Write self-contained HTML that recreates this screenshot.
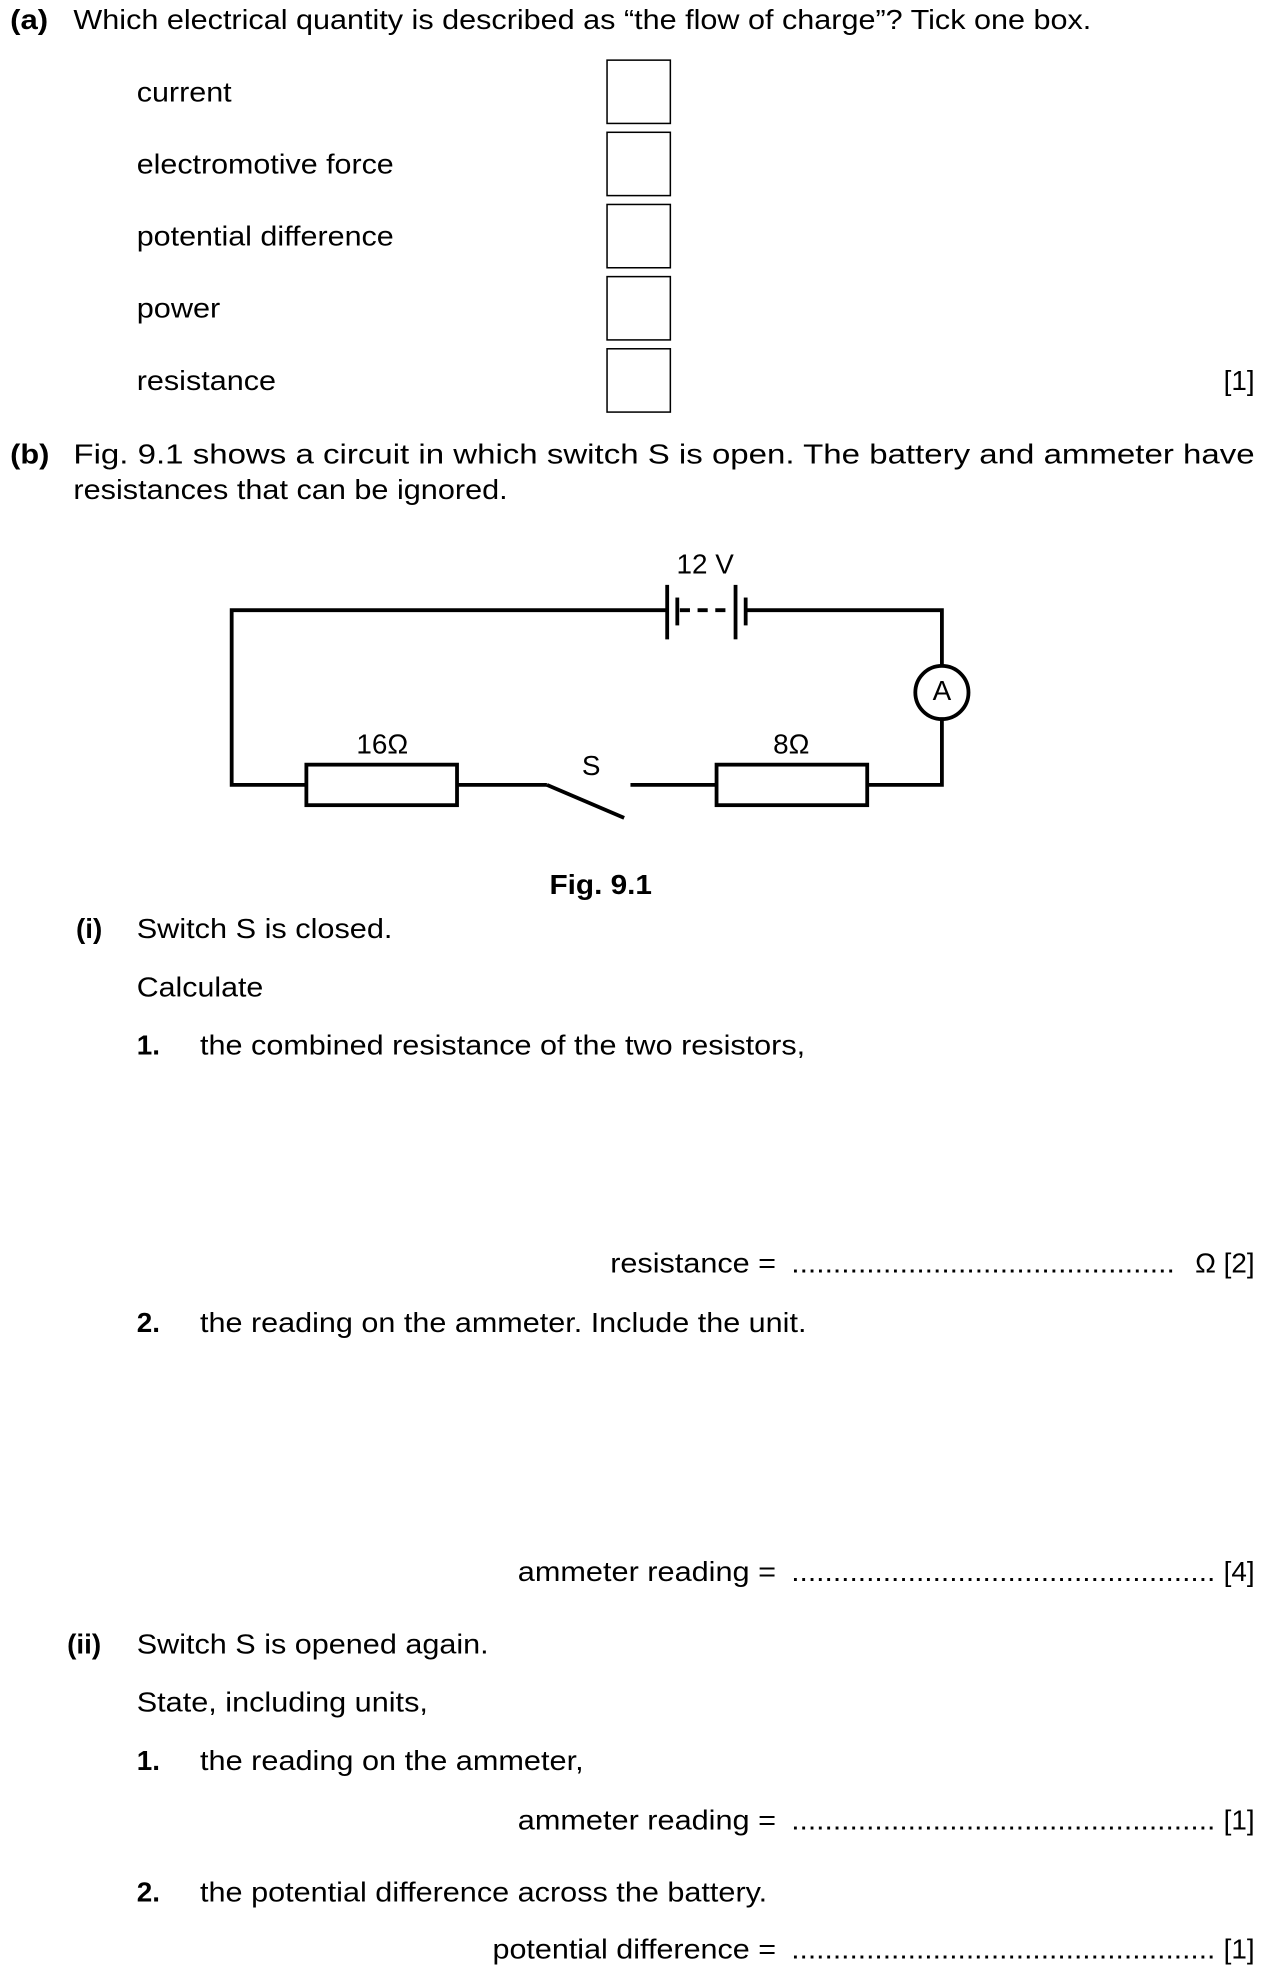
<!DOCTYPE html>
<html><head><meta charset="utf-8"><style>
html,body{margin:0;padding:0;background:#fff;}
svg{display:block;}
text{font-family:"Liberation Sans",Arial,sans-serif;font-size:22px;fill:#000;}
</style></head><body>
<svg width="1266" height="1980" viewBox="0 0 1000 1564" preserveAspectRatio="none" xmlns="http://www.w3.org/2000/svg">
<g transform="translate(0,-2)">
<text x="8" y="25" font-weight="bold" textLength="30" lengthAdjust="spacingAndGlyphs">(a)</text>
<text x="58" y="25" textLength="804" lengthAdjust="spacingAndGlyphs">Which electrical quantity is described as “the flow of charge”? Tick one box.</text>
<text x="108" y="82" textLength="75" lengthAdjust="spacingAndGlyphs">current</text>
<text x="108" y="139" textLength="203" lengthAdjust="spacingAndGlyphs">electromotive force</text>
<text x="108" y="196" textLength="203" lengthAdjust="spacingAndGlyphs">potential difference</text>
<text x="108" y="253" textLength="66" lengthAdjust="spacingAndGlyphs">power</text>
<text x="108" y="310" textLength="110" lengthAdjust="spacingAndGlyphs">resistance</text>
<text x="991" y="310" text-anchor="end">[1]</text>

<text x="8" y="368" font-weight="bold" textLength="31" lengthAdjust="spacingAndGlyphs">(b)</text>
<text x="58" y="368" textLength="933" lengthAdjust="spacingAndGlyphs">Fig. 9.1 shows a circuit in which switch S is open. The battery and ammeter have</text>
<text x="58" y="396" textLength="343" lengthAdjust="spacingAndGlyphs">resistances that can be ignored.</text>

<text x="557" y="455" text-anchor="middle">12 V</text>
<text x="744" y="555" text-anchor="middle">A</text>
<text x="302" y="597" text-anchor="middle">16Ω</text>
<text x="625" y="597" text-anchor="middle">8Ω</text>
<text x="467" y="614" text-anchor="middle">S</text>
<text x="434" y="708" font-weight="bold" textLength="81" lengthAdjust="spacingAndGlyphs">Fig. 9.1</text>

<text x="60" y="743" font-weight="bold">(i)</text>
<text x="108" y="743" textLength="202" lengthAdjust="spacingAndGlyphs">Switch S is closed.</text>
<text x="108" y="789" textLength="100" lengthAdjust="spacingAndGlyphs">Calculate</text>
<text x="108" y="835" font-weight="bold">1.</text>
<text x="158" y="835" textLength="478" lengthAdjust="spacingAndGlyphs">the combined resistance of the two resistors,</text>

<text x="482" y="1007" textLength="131" lengthAdjust="spacingAndGlyphs">resistance =</text>
<text x="625" y="1007" textLength="303" lengthAdjust="spacingAndGlyphs">..............................................</text>
<text x="991" y="1007" text-anchor="end">Ω [2]</text>

<text x="108" y="1054" font-weight="bold">2.</text>
<text x="158" y="1054" textLength="479" lengthAdjust="spacingAndGlyphs">the reading on the ammeter. Include the unit.</text>

<text x="409" y="1251" textLength="204" lengthAdjust="spacingAndGlyphs">ammeter reading =</text>
<text x="625" y="1251" textLength="335" lengthAdjust="spacingAndGlyphs">...................................................</text>
<text x="991" y="1251" text-anchor="end">[4]</text>

<text x="53" y="1308" font-weight="bold">(ii)</text>
<text x="108" y="1308" textLength="278" lengthAdjust="spacingAndGlyphs">Switch S is opened again.</text>
<text x="108" y="1354" textLength="230" lengthAdjust="spacingAndGlyphs">State, including units,</text>
<text x="108" y="1400" font-weight="bold">1.</text>
<text x="158" y="1400" textLength="303" lengthAdjust="spacingAndGlyphs">the reading on the ammeter,</text>
<text x="409" y="1447" textLength="204" lengthAdjust="spacingAndGlyphs">ammeter reading =</text>
<text x="625" y="1447" textLength="335" lengthAdjust="spacingAndGlyphs">...................................................</text>
<text x="991" y="1447" text-anchor="end">[1]</text>

<text x="108" y="1504" font-weight="bold">2.</text>
<text x="158" y="1504" textLength="448" lengthAdjust="spacingAndGlyphs">the potential difference across the battery.</text>
<text x="389" y="1549" textLength="224" lengthAdjust="spacingAndGlyphs">potential difference =</text>
<text x="625" y="1549" textLength="335" lengthAdjust="spacingAndGlyphs">...................................................</text>
<text x="991" y="1549" text-anchor="end">[1]</text>
</g>
<g fill="none" stroke="#000" stroke-width="1.2">
<rect x="479.5" y="47.5" width="50" height="50"/>
<rect x="479.5" y="104.5" width="50" height="50"/>
<rect x="479.5" y="161.5" width="50" height="50"/>
<rect x="479.5" y="218.5" width="50" height="50"/>
<rect x="479.5" y="275.5" width="50" height="50"/>
</g>
<g fill="none" stroke="#000" stroke-width="3">
<polyline points="527,482 183,482 183,620 242,620"/>
<polyline points="589,482 744,482 744,526"/>
<polyline points="744,568 744,620 685,620"/>
<line x1="361" y1="620" x2="432" y2="620"/>
<line x1="432" y1="620" x2="493" y2="646"/>
<line x1="498" y1="620" x2="566" y2="620"/>
<rect x="242" y="604" width="119" height="32"/>
<rect x="566" y="604" width="119" height="32"/>
<circle cx="744" cy="547" r="21"/>
<line x1="527" y1="462" x2="527" y2="505"/>
<line x1="535" y1="472" x2="535" y2="494"/>
<line x1="581" y1="462" x2="581" y2="505"/>
<line x1="589" y1="472" x2="589" y2="494"/>
<line x1="537" y1="482" x2="579" y2="482" stroke-dasharray="8,6"/>
</g>
</svg>
</body></html>
